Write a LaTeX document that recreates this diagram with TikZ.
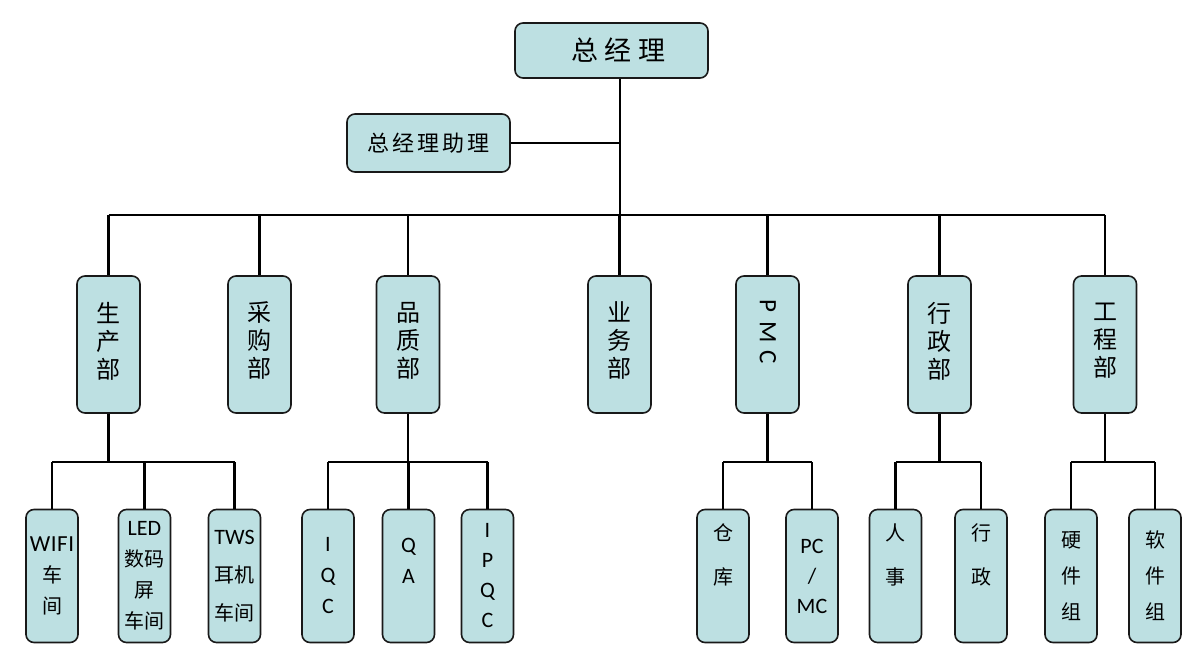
\documentclass[tikz,border=0pt]{standalone}
\usepackage{fontspec}
\setmainfont{Carlito}
\newfontfamily\cjk{Noto Sans CJK SC}
\definecolor{boxfill}{RGB}{189,224,226}
\definecolor{boxline}{RGB}{25,25,25}
\newcommand{\zh}[1]{{\cjk\fontsize{20}{31}\selectfont #1}}
\begin{document}
\begin{tikzpicture}[x=1pt,y=-1pt,
  box/.style={draw=boxline, line width=1.6pt, fill=boxfill, rounded corners=8pt, inner sep=0pt, align=center},
  topbox/.style={box, minimum width=193pt, minimum height=55pt, font=\cjk\fontsize{27}{30}\selectfont},
  asstbox/.style={box, minimum width=163pt, minimum height=58pt, font=\cjk\fontsize{22}{26}\selectfont},
  dept/.style={box, minimum width=63pt, minimum height=137pt, font=\cjk\fontsize{24}{28}\selectfont},
  unit/.style={box, minimum width=52pt, minimum height=133pt, font=\fontsize{22}{31}\selectfont},
  rottext/.style={inner sep=0pt, rotate=-90, font=\fontsize{25}{28}\selectfont},
  link/.style={line width=2.8pt, draw=black}]
\useasboundingbox (0,0) rectangle (1200,670);

% top
\node[topbox] (gm) at (611.5,50.5) {\hspace{14pt}总\hspace{7pt}经\hspace{7pt}理};
\node[asstbox] (asst) at (428.5,143) {总\hspace{3pt}经\hspace{3pt}理\hspace{3pt}助\hspace{3pt}理};

% departments
\node[dept] (prod)  at (108.5,344.5) {生\\产\\部\\[-19pt]\mbox{}};
\node[dept] (purch) at (259.5,344.5) {采\\购\\部\\[-19pt]\mbox{}};
\node[dept] (qual)  at (408,344.5)   {品\\质\\部\\[-19pt]\mbox{}};
\node[dept] (sales) at (619.5,344.5) {业\\务\\部\\[-19pt]\mbox{}};
\node[dept] (pmc)   at (767.5,344.5) {};
\node[rottext] (pmctext) at (768,332) {P\,\,M\,\,C};
\node[dept] (admin) at (939.5,344.5) {行\\政\\部\\[-19pt]\mbox{}};
\node[dept] (eng)   at (1105,344.5)  {工\\程\\部\\[-19pt]\mbox{}};

% units
\node[unit] (wifi) at (52,576)   {\fontsize{23}{31}\selectfont W\kern0.5pt I\kern0.5pt F\kern0.5pt I\\\zh{车}\\\zh{间}};
\node[unit] (led)  at (144.5,576) {LED\\\zh{数码}\\\zh{屏}\\\zh{车间}};
\node[unit] (tws)  at (234.5,576) {TWS\\[7pt]\zh{耳机}\\[7pt]\zh{车间}};
\node[unit] (iqc)  at (328,576)  {I\\Q\\C};
\node[unit] (qa)   at (408.5,576) {Q\\A\\\phantom{A}};
\node[unit] (ipqc) at (487.5,576) {I\\[-1pt]P\\[-1pt]Q\\[-1pt]C};
\node[unit] (wh)   at (723,576)  {\zh{仓}\\[13pt]\zh{库}\\[13pt]\phantom{A}};
\node[unit] (pcmc) at (812,576)  {PC\\[-1pt]/\\[-1pt]MC};
\node[unit] (hr)   at (895.5,576) {\zh{人}\\[13pt]\zh{事}\\[13pt]\phantom{A}};
\node[unit] (adm)  at (981,576)  {\zh{行}\\[13pt]\zh{政}\\[13pt]\phantom{A}};
\node[unit] (hw)   at (1071,576) {\zh{硬}\\[5pt]\zh{件}\\[5pt]\zh{组}};
\node[unit] (sw)   at (1155,576) {\zh{软}\\[5pt]\zh{件}\\[5pt]\zh{组}};

% junction coordinates
\coordinate (trunk) at (620,215);
\coordinate (sub) at (0,462);

% top connectors
\draw[link] (gm.south -| trunk) -- (trunk);
\draw[link] (asst.east) -- (asst.east -| trunk);
\draw[link] (prod.north |- trunk) -- (eng.north |- trunk);
\foreach \n in {prod,purch,qual,sales,pmc,admin,eng}
  \draw[link] (\n.north) -- (\n.north |- trunk);

% sub connectors
\draw[link] (prod.south) -- (prod.south |- sub);
\draw[link] (wifi.north |- sub) -- (tws.north |- sub);
\draw[link] (qual.south) -- (qual.south |- sub);
\draw[link] (iqc.north |- sub) -- (ipqc.north |- sub);
\draw[link] (pmc.south) -- (pmc.south |- sub);
\draw[link] (wh.north |- sub) -- (pcmc.north |- sub);
\draw[link] (admin.south) -- (admin.south |- sub);
\draw[link] (hr.north |- sub) -- (adm.north |- sub);
\draw[link] (eng.south) -- (eng.south |- sub);
\draw[link] (hw.north |- sub) -- (sw.north |- sub);
\foreach \n in {wifi,led,tws,iqc,qa,ipqc,wh,pcmc,hr,adm,hw,sw}
  \draw[link] (\n.north) -- (\n.north |- sub);
\end{tikzpicture}
\end{document}
